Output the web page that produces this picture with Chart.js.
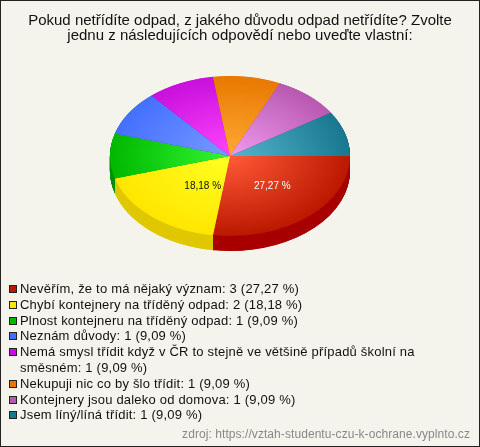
<!DOCTYPE html>
<html>
<head>
<meta charset="utf-8">
<script src="https://cdn.jsdelivr.net/npm/chart.js@4"></script>
<style>
html, body { margin: 0; padding: 0; background: #f5f4ec; }
#wrap { position: relative; width: 480px; height: 447px; overflow: hidden; font-family: "Liberation Sans", Arial, sans-serif; }
#frame { position: absolute; left: 0; top: 0; width: 478px; height: 445px; border: 1px solid #222; pointer-events: none; }
canvas { position: absolute; left: 0; top: 0; }
#legend { position: absolute; left: 7px; top: 281px; width: 422px; margin: 0; padding: 0; list-style: none; font-size: 13px; letter-spacing: 0.2px; line-height: 15.8px; color: #111; }
#legend li { position: relative; padding-left: 13px; }
#legend i { position: absolute; left: 2px; top: 4px; width: 6px; height: 6px; border: 1px solid #222; }
#source { position: absolute; right: 10px; top: 427px; font-size: 12px; letter-spacing: 0.07px; color: #888; }
</style>
</head>
<body>
<div id="wrap">
  <canvas id="chart" width="480" height="447"></canvas>
  <ul id="legend"></ul>
  <div id="source">zdroj: https://vztah-studentu-czu-k-ochrane.vyplnto.cz</div>
  <div id="frame"></div>
</div>
<script>
const titleLines = [
    'Pokud netřídíte odpad, z jakého důvodu odpad netřídíte? Zvolte',
    'jednu z následujících odpovědí nebo uveďte vlastní:'
];
const categories = [
    'Nevěřím, že to má nějaký význam',
    'Chybí kontejnery na tříděný odpad',
    'Plnost kontejneru na tříděný odpad',
    'Neznám důvody',
    'Nemá smysl třídit když v ČR to stejně ve většině případů školní na směsném',
    'Nekupuji nic co by šlo třídit',
    'Kontejnery jsou daleko od domova',
    'Jsem líný/líná třídit'
];
const counts = [3, 2, 1, 1, 1, 1, 1, 1];
const percents = ['27,27', '18,18', '9,09', '9,09', '9,09', '9,09', '9,09', '9,09'];

const edgeColors = ['#bb1800', '#ffe600', '#00b800', '#4470ff', '#c810dc', '#e87800', '#b858b0', '#18788f'];
const midColors = ['#ff5a38', '#ffff22', '#33f533', '#7799ff', '#ff44ff', '#ffa933', '#f09af0', '#55b5cc'];
const wallColors = ['#a80000', '#e0c800', '#009000', '#2850d0', '#a000b0', '#c06000', '#904090', '#006070'];

const squash = 2 / 3;
const pieX = 230, pieY = 156, depth = 15;
const labelNudge = [3, 12];

function sliceFill(c) {
    const area = c.chart.chartArea;
    if (!area) return edgeColors[c.dataIndex];
    const x = (area.left + area.right) / 2, y = (area.top + area.bottom) / 2;
    const g = c.chart.ctx.createRadialGradient(x, y, 0, x, y, 120);
    g.addColorStop(0, midColors[c.dataIndex]);
    g.addColorStop(1, edgeColors[c.dataIndex]);
    return g;
}

// chart.js only knows round pies, so squash the drawing and add the wall under it
const tiltPlugin = {
    id: 'tilt',
    beforeDatasetDraw(chart) {
        const ctx = chart.ctx, arcs = chart.getDatasetMeta(0).data;
        const x = arcs[0].x, y = arcs[0].y;
        ctx.save();
        ctx.translate(pieX, pieY);
        ctx.scale(1, squash);
        ctx.translate(-x, -y);
        for (let d = depth / squash; d > 0; d -= 0.5) {
            arcs.forEach((a, i) => {
                ctx.fillStyle = wallColors[i];
                ctx.beginPath();
                ctx.moveTo(a.x, a.y + d);
                ctx.arc(a.x, a.y + d, a.outerRadius, a.startAngle, a.endAngle);
                ctx.closePath();
                ctx.fill();
            });
        }
    },
    afterDatasetDraw(chart) {
        const ctx = chart.ctx, arcs = chart.getDatasetMeta(0).data;
        ctx.restore();
        ctx.save();
        ctx.font = '10px "Liberation Sans", Arial, sans-serif';
        ctx.textAlign = 'center';
        ctx.textBaseline = 'middle';
        arcs.forEach((a, i) => {
            if (counts[i] < 2) return;
            const mid = (a.startAngle + a.endAngle) / 2;
            const r = a.outerRadius * 0.5;
            ctx.fillStyle = i === 0 ? '#fff' : '#111';
            ctx.fillText(percents[i] + ' %', pieX + r * Math.cos(mid) + labelNudge[i], pieY + r * Math.sin(mid) * squash);
        });
        ctx.restore();
    }
};

new Chart(document.getElementById('chart').getContext('2d'), {
    type: 'pie',
    data: {
        labels: categories,
        datasets: [{ data: counts, backgroundColor: sliceFill, borderWidth: 0, hoverOffset: 0 }]
    },
    options: {
        responsive: false,
        animation: false,
        rotation: 90,
        layout: { padding: { top: 0, bottom: 147 } },
        plugins: {
            legend: { display: false },
            tooltip: { enabled: false },
            title: {
                display: true,
                text: titleLines,
                color: '#111',
                font: { family: '"Liberation Sans", Arial, sans-serif', size: 15, weight: 'normal', lineHeight: 1 },
                padding: { top: 13, bottom: 17 }
            }
        }
    },
    plugins: [tiltPlugin]
});

const legend = document.getElementById('legend');
categories.forEach((name, i) => {
    const li = document.createElement('li');
    const box = document.createElement('i');
    box.style.background = edgeColors[i];
    li.appendChild(box);
    li.appendChild(document.createTextNode(`${name}: ${counts[i]} (${percents[i]} %)`));
    legend.appendChild(li);
});
</script>
</body>
</html>
